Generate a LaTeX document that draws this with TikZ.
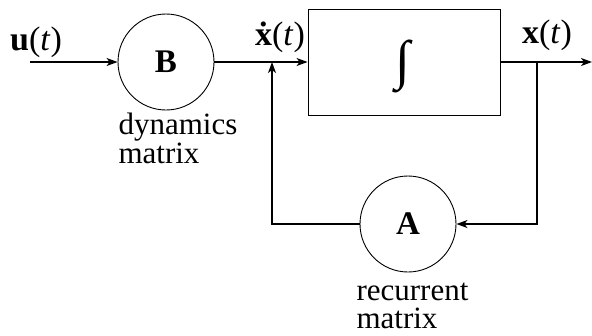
\documentclass[tikz,border=0pt]{standalone}
\usepackage{fontspec}
\setmainfont{Liberation Serif}
\usetikzlibrary{arrows.meta}
\begin{document}
\begin{tikzpicture}[x=1pt,y=-1pt, line width=1.1pt,
  arr/.style={-{Stealth[length=11pt,width=8pt,inset=3pt]}},
  blk/.style={draw, circle, line width=0.9pt, minimum size=96pt, inner sep=0pt, font=\fontsize{33}{33}\selectfont\bfseries},
  lbl/.style={font=\fontsize{31}{25}\selectfont, inner sep=0pt},
  sig/.style={font=\fontsize{34}{34}\selectfont, inner sep=0pt, anchor=base}]
\useasboundingbox (0,0) rectangle (592,335);
\node[blk] (B) at (166,62) {B};
\node[blk] (A) at (408,224) {A};
\node[draw, line width=0.9pt, minimum width=192pt, minimum height=106pt, inner sep=0pt] (I) at (404,62) {};
\node[inner sep=0pt, font=\fontsize{54}{54}\selectfont] (int) at (403,66) {∫};
\coordinate (in) at (30,62);
\coordinate (j1) at (272,62);
\coordinate (j2) at (537,62);
\coordinate (out) at (592,62);
\draw[arr] (in) -- (B.west);
\draw[arr] (B.east) -- (I.west);
\draw[arr] (I.east) -- (out);
\draw[arr] (A.west) -| (j1);
\draw[arr] (j2) |- (A.east);
\node[sig] (u) at (36,50) {\textbf{u}(\textit{t})};
\node[sig] (xd) at (280,45) {\textbf{\.x}(\textit{t})};
\node[sig] (x) at (547,43) {\textbf{x}(\textit{t})};
\node[lbl, anchor=base west, align=left] (dyn) at (118,163) {dynamics\\matrix};
\node[lbl, anchor=base west, align=left, font=\fontsize{31}{28}\selectfont] (rec) at (356,328) {recurrent\\matrix};
\end{tikzpicture}
\end{document}
